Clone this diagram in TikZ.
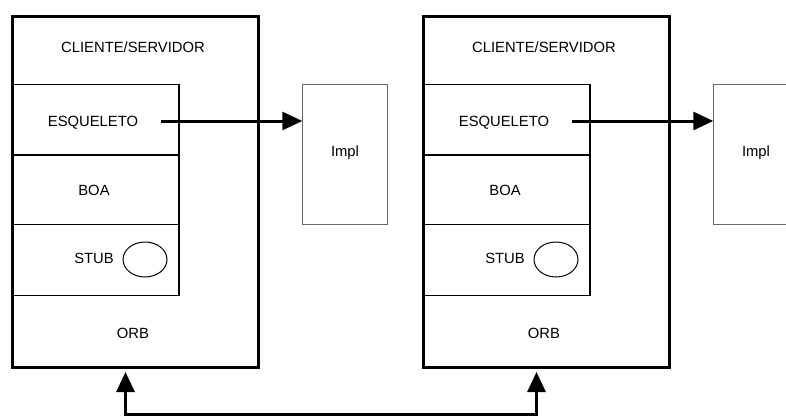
\documentclass[tikz,border=0pt]{standalone}
\usepackage{fontspec}
\setmainfont{Liberation Sans}
\usetikzlibrary{arrows.meta,shapes.geometric}
\begin{document}
\begin{tikzpicture}[x=1pt,y=-1pt,
  lbl/.style={anchor=base,inner sep=0pt,font=\fontsize{14.8}{16}\selectfont},
  outerbox/.style={draw,line width=3pt},
  innerbox/.style={draw,line width=1.4pt},
  implbox/.style={draw=black!60,line width=1pt},
  conn/.style={line width=3pt,-{Triangle[length=20pt,width=18pt]}},
  plain/.style={line width=3pt}]
\useasboundingbox (0,0) rectangle (786,417);
\clip (0,0) rectangle (786,417);
\foreach \i/\dx in {1/0,2/411}{
  \begin{scope}[xshift=\dx pt]
    \node[outerbox,inner sep=0,anchor=north west,minimum width=246pt,minimum height=351pt] (outer\i) at (10.5,15) {};
    \node[innerbox,inner sep=0,anchor=north west,minimum width=167.8pt,minimum height=70.3pt] (esqbox\i) at (10.5,84) {};
    \node[innerbox,inner sep=0,anchor=north west,minimum width=167.8pt,minimum height=69.7pt] (boabox\i) at (10.5,154.3) {};
    \node[innerbox,inner sep=0,anchor=north west,minimum width=167.8pt,minimum height=71pt] (stubbox\i) at (10.5,224) {};
    \node[implbox,inner sep=0,anchor=north west,minimum width=84.7pt,minimum height=140pt] (impl\i) at (302.3,84) {};
    \node[lbl] (cs\i) at (133,53) {CLIENTE/SERVIDOR};
    \node[lbl] (esq\i) at (93,126) {ESQUELETO};
    \node[lbl] (boa\i) at (94,195.5) {BOA};
    \node[lbl] (stub\i) at (94,263) {STUB};
    \node[lbl] (orb\i) at (133,338) {ORB};
    \node[lbl] (impltext\i) at (345,156) {Impl};
    \node[draw,line width=1pt,ellipse,inner sep=0,minimum width=44pt,minimum height=35pt] (ell\i) at (145,259.5) {};
    \coordinate (as\i) at (161,121);
    \draw[conn] (as\i) -- (impl\i.west |- as\i);
    \coordinate (b\i) at (125.5,414.5);
    \draw[conn,shorten >=3pt] (b\i) -- (b\i |- outer\i.south);
  \end{scope}
}
\draw[plain,line cap=rect] (b1) -- (b2);
\end{tikzpicture}
\end{document}
